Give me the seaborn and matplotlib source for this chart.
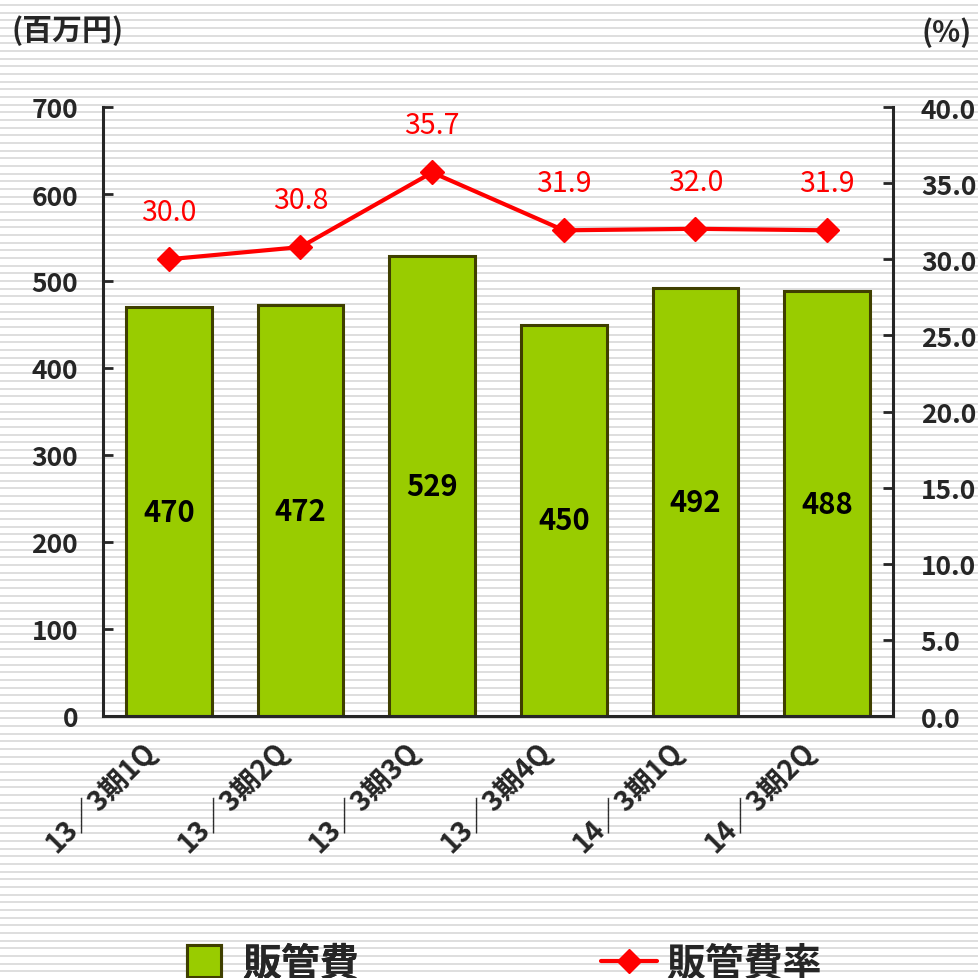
import numpy as np
import pandas as pd
import seaborn as sns
import matplotlib.pyplot as plt
import matplotlib.transforms as mtransforms
from matplotlib.ticker import FormatStrFormatter

# data
periods = ['13／3期1Q', '13／3期2Q', '13／3期3Q', '13／3期4Q', '14／3期1Q', '14／3期2Q']
sga = [470, 472, 529, 450, 492, 488]          # 販管費 (百万円)
sga_ratio = [30.0, 30.8, 35.7, 31.9, 32.0, 31.9]  # 販管費率 (%)
left_ticks = list(range(0, 701, 100))
right_ticks = [0.0, 5.0, 10.0, 15.0, 20.0, 25.0, 30.0, 35.0, 40.0]

df = pd.DataFrame({'period': periods, 'sga': sga, 'ratio': sga_ratio})

sns.set_style('white')
plt.rcParams['font.family'] = ['Noto Sans CJK JP', 'DejaVu Sans']

W, H = 979, 979
fig = plt.figure(figsize=(W / 100, H / 100), dpi=100)

# striped background
bg = fig.add_axes([0, 0, 1, 1], zorder=-10)
bg.set_xlim(0, W)
bg.set_ylim(H, 0)
bg.hlines(np.arange(6, H, 7.67), 0, W, color='#dedede', linewidth=1.4)
bg.axis('off')

ax = fig.add_axes([103 / W, 1 - 717 / H, (893 - 103) / W, (717 - 108) / H])
ax.patch.set_visible(False)

sns.barplot(data=df, x='period', y='sga', ax=ax, color='#99cc00',
            saturation=1, width=0.65, edgecolor='#3f3f00', linewidth=2.2, zorder=2)
ax.bar_label(ax.containers[0], labels=[str(v) for v in sga], label_type='center',
             fontsize=21, fontweight='bold', color='black')

ax.set_xlim(-0.5, len(periods) - 0.5)
ax.set_ylim(0, 700)
ax.set_yticks(left_ticks)
ax.set_xlabel('')
ax.set_ylabel('')
ax.set_xticks(range(len(periods)))
ax.set_xticklabels(periods, rotation=45, ha='right', va='top', rotation_mode='anchor')
ax.set_xticks(np.arange(0.5, len(periods) - 0.5, 1), minor=True)
ax.tick_params(axis='x', which='major', length=0, pad=14, labelsize=20)
ax.tick_params(axis='x', which='minor', direction='in', length=7, width=2)
ax.tick_params(axis='y', direction='in', length=7, width=2, pad=18, labelsize=19)
shift = mtransforms.ScaledTranslation(-0.28, 0, fig.dpi_scale_trans)
for lab in ax.get_xticklabels():
    lab.set_transform(lab.get_transform() + shift)
for lab in ax.get_xticklabels() + ax.get_yticklabels():
    lab.set_fontweight('bold')
for side in ['top', 'right']:
    ax.spines[side].set_visible(False)
for side in ['left', 'bottom']:
    ax.spines[side].set_linewidth(2.2)

ax2 = ax.twinx()
ax2.plot(range(len(periods)), sga_ratio, color='red', linewidth=3,
         marker='D', markersize=12, zorder=3)
for i, v in enumerate(sga_ratio):
    ax2.annotate(f'{v:.1f}', (i, v), xytext=(0, 34), textcoords='offset points',
                 ha='center', va='center', color='red', fontsize=20.5)
ax2.set_ylim(0, 40)
ax2.set_yticks(right_ticks)
ax2.yaxis.set_major_formatter(FormatStrFormatter('%.1f'))
ax2.tick_params(axis='y', direction='in', length=7, width=2, pad=20, labelsize=19)
for lab in ax2.get_yticklabels():
    lab.set_fontweight('bold')
for side in ['top', 'left', 'bottom']:
    ax2.spines[side].set_visible(False)
ax2.spines['right'].set_linewidth(2.2)
ax2.set_xlim(-0.5, len(periods) - 0.5)

# axis unit labels
fig.text(12 / W, 1 - 31 / H, '(百万円)', ha='left', va='center', fontsize=21.5, fontweight='bold')
fig.text(972 / W, 1 - 33 / H, '(%)', ha='right', va='center', fontsize=21, fontweight='bold')

# legends
bar_handle = ax.patches[0]
line_handle = ax2.lines[0]
leg1 = fig.legend([bar_handle], ['販管費'], loc='center left', bbox_to_anchor=(187 / W, 15 / H),
                  frameon=False, borderpad=0, borderaxespad=0, handlelength=0.87,
                  handleheight=0.87, handletextpad=0.55, prop={'size': 28, 'weight': 'bold'})
leg2 = fig.legend([line_handle], ['販管費率'], loc='center left', bbox_to_anchor=(601 / W, 15 / H),
                  frameon=False, borderpad=0, borderaxespad=0, handlelength=1.44,
                  handletextpad=0.25, prop={'size': 28, 'weight': 'bold'})
fig.add_artist(leg1)

fig.savefig('out.png', dpi=100, facecolor='white')
